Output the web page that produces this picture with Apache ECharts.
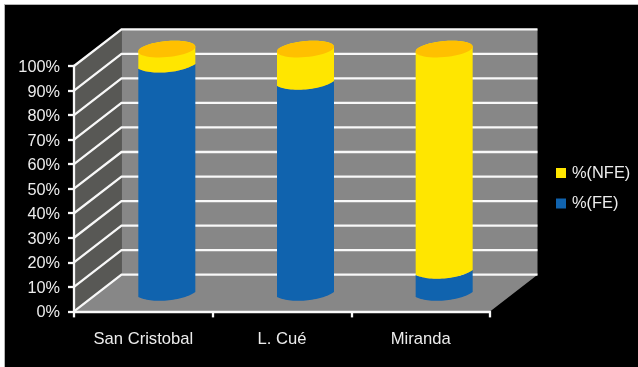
<!DOCTYPE html>
<html>
<head>
<meta charset="utf-8">
<style>
  html, body { margin: 0; padding: 0; background: #fff; width: 638px; height: 367px; overflow: hidden; }
  #panel { position: absolute; left: 4px; top: 4px; width: 634px; height: 363px; box-sizing: border-box;
           background: #000; border-left: 1px solid #b4b4b4; border-top: 1px solid #b4b4b4; }
  #chart { position: absolute; left: 0; top: 0; width: 638px; height: 367px; }
</style>
<script src="https://cdn.jsdelivr.net/npm/echarts@6/dist/echarts.min.js"></script>
</head>
<body>
<div id="panel"></div>
<div id="chart"></div>
<script>
// Share of FE and NFE per locality, in percent
const categories = ['San Cristobal', 'L. Cué', 'Miranda'];
const feValues = [93, 86, 9];
const nfeValues = [7, 14, 91];
const gridTicks = [0, 10, 20, 30, 40, 50, 60, 70, 80, 90, 100];

const FONT = '"Liberation Sans", Arial, sans-serif';
const TEXT = '#ececec';
const BLUE = '#1063ae';
const YELLOW = '#ffe600';
const CAP = '#ffc000';
const WALL = '#878787';
const SIDE = '#585855';
const LINE = '#f8f8f8';
const LINE_WIDTH = 2.3;

// Pseudo-3D box: depth of the chart floor, and where the cylinders stand in it
const DEPTH_X = 47.5;
const DEPTH_Y = -36.7;
const BAR_DX = 23.5;
const BAR_DY = -16.9;
const BAR_RX = 28.5;
const CAP_RY = 8.0;
const TILT = 2.4;
const RIM_RY = 12;
const RIM_SPAN = Math.PI / 6;

// Full sheared ellipse for the top cap; its right end sits higher than its left
function capArc(cx, cy, from, to) {
  const pts = [];
  const n = 48;
  for (let i = 0; i <= n; i++) {
    const t = from + (to - from) * i / n;
    pts.push([
      cx + BAR_RX * Math.cos(t),
      cy + CAP_RY * Math.sin(t) - TILT * Math.cos(t)
    ]);
  }
  return pts;
}

// Front rim of the cylinder, running left to right and meeting the sides at a sharp corner
function rimArc(cx, cy) {
  const pts = [];
  const n = 32;
  const stretch = 1 / Math.cos(RIM_SPAN);
  for (let i = 0; i <= n; i++) {
    const t = Math.PI - RIM_SPAN - (Math.PI - 2 * RIM_SPAN) * i / n;
    pts.push([
      cx + BAR_RX * stretch * Math.cos(t),
      cy + RIM_RY * (Math.sin(t) - Math.sin(RIM_SPAN)) - TILT * stretch * Math.cos(t)
    ]);
  }
  return pts;
}

function renderBox(params, api) {
  const tick = api.value(0);
  const cs = params.coordSys;
  const left = cs.x, right = cs.x + cs.width;
  const y = api.coord([0, tick])[1];
  const style = { stroke: LINE, lineWidth: LINE_WIDTH, fill: null };
  const children = [];
  if (tick === 0) {
    const top = cs.y, bottom = cs.y + cs.height;
    children.push({ type: 'polygon', shape: { points: [
      [left, bottom], [left, top], [left + DEPTH_X, top + DEPTH_Y], [left + DEPTH_X, bottom + DEPTH_Y]
    ] }, style: { fill: SIDE } });
    children.push({ type: 'polygon', shape: { points: [
      [left + DEPTH_X, top + DEPTH_Y], [right + DEPTH_X, top + DEPTH_Y], [right + DEPTH_X, bottom + DEPTH_Y],
      [right, bottom], [left, bottom], [left + DEPTH_X, bottom + DEPTH_Y]
    ] }, style: { fill: WALL } });
  }
  children.push({ type: 'polyline', shape: { points: [
    [left, y], [left + DEPTH_X, y + DEPTH_Y], [right + DEPTH_X, y + DEPTH_Y]
  ] }, style: style });
  return { type: 'group', children: children };
}

function renderCylinder(params, api) {
  const idx = api.value(0);
  const from = api.coord([idx, api.value(1)]);
  const to = api.coord([idx, api.value(2)]);
  const cx = from[0] + BAR_DX;
  const y0 = from[1] + BAR_DY;
  const y1 = to[1] + BAR_DY;
  const isTop = api.value(2) >= 100;
  const fill = api.visual('color');
  const upper = isTop ? capArc(cx, y1, 0, -Math.PI) : rimArc(cx, y1).reverse();
  const children = [{
    type: 'polygon',
    shape: { points: rimArc(cx, y0).concat(upper) },
    style: { fill: fill }
  }];
  if (isTop) {
    children.push({
      type: 'polygon',
      shape: { points: capArc(cx, y1, 0, Math.PI * 2) },
      style: { fill: CAP }
    });
  }
  return { type: 'group', children: children };
}

const chart = echarts.init(document.getElementById('chart'), null, { renderer: 'canvas' });
chart.setOption({
  animation: false,
  backgroundColor: 'transparent',
  grid: { left: 74, top: 66, width: 416, height: 245.4 },
  legend: {
    left: 551, top: 160, orient: 'vertical',
    icon: 'rect', itemWidth: 10, itemHeight: 10, itemGap: 14.5,
    selectedMode: false,
    data: ['%(NFE)', '%(FE)'],
    textStyle: { color: TEXT, fontFamily: FONT, fontSize: 16.4, padding: [0, 0, 0, 1] }
  },
  xAxis: {
    type: 'category', data: categories, z: 5,
    axisLine: { lineStyle: { color: LINE, width: LINE_WIDTH } },
    axisTick: { show: true, length: 6, lineStyle: { color: LINE, width: LINE_WIDTH } },
    axisLabel: { color: TEXT, fontFamily: FONT, fontSize: 16.6, margin: 20 }
  },
  yAxis: {
    type: 'value', min: 0, max: 100, interval: 10, z: 5,
    splitLine: { show: false },
    axisLine: { show: true, lineStyle: { color: LINE, width: LINE_WIDTH } },
    axisTick: { show: true, length: 6, lineStyle: { color: LINE, width: LINE_WIDTH } },
    axisLabel: {
      margin: 14,
      formatter: value => '{pct|' + value + '%}',
      rich: { pct: { color: TEXT, fontFamily: FONT, fontSize: 16.3, padding: [3, 0, 0, 0] } }
    }
  },
  series: [
    {
      type: 'custom', name: 'box', z: 1, silent: true,
      renderItem: renderBox,
      encode: { y: 0 },
      data: gridTicks.map(t => [t])
    },
    {
      type: 'custom', name: '%(FE)', z: 2, silent: true,
      itemStyle: { color: BLUE },
      renderItem: renderCylinder,
      encode: { x: 0, y: [1, 2] },
      data: feValues.map((v, i) => [i, 0, v])
    },
    {
      type: 'custom', name: '%(NFE)', z: 3, silent: true,
      itemStyle: { color: YELLOW },
      renderItem: renderCylinder,
      encode: { x: 0, y: [1, 2] },
      data: nfeValues.map((v, i) => [i, feValues[i], feValues[i] + v])
    }
  ]
});
</script>
</body>
</html>
